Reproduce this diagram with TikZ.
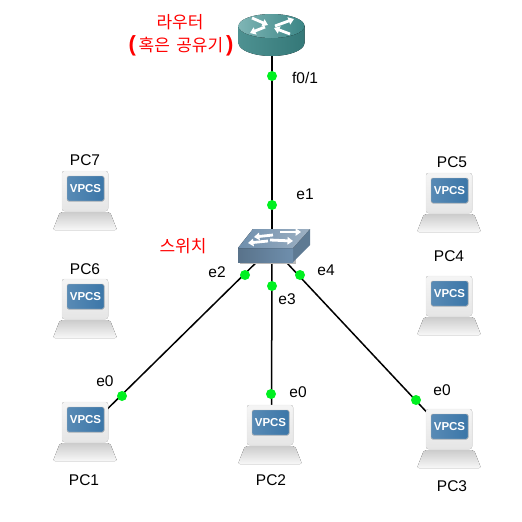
\documentclass[tikz,border=0pt]{standalone}
\usepackage{fontspec}
\setmainfont{Liberation Sans}
\newfontfamily\krfont{Noto Sans CJK KR}
\usetikzlibrary{arrows.meta,positioning,calc}
\definecolor{routerteal}{HTML}{3A8585}
\definecolor{routertop}{HTML}{7FB5B5}
\definecolor{switchblue}{HTML}{6F8FAD}
\definecolor{switchtop}{HTML}{9DB0C2}
\definecolor{screenblue}{HTML}{3B76A8}
\definecolor{portgreen}{HTML}{00F020}
\tikzset{
  wire/.style={draw=black,line width=1.5pt},
  port/.style={circle,fill=portgreen,inner sep=0pt,minimum size=10pt},
  lbl/.style={font=\fontsize{15.5}{18}\selectfont,inner sep=0pt},
  redlbl/.style={font=\krfont\fontsize{17}{20}\selectfont,text=red,inner sep=0pt},
  devbox/.style={inner sep=0pt,minimum width=46pt,minimum height=44pt},
  whitearrow/.style={draw=white,line width=2.8pt,-{Triangle[width=7.5pt,length=5.5pt]}},
  pics/vpcs/.style={code={
    % base
    \fill[top color=gray!40,bottom color=gray!6,rounded corners=2pt]
      (-25,21) -- (25,21) -- (32,39) -- (-32,39) -- cycle;
    % monitor
    \fill[top color=gray!8,bottom color=gray!20,draw=gray!20,rounded corners=2.5pt]
      (-23,-20) rectangle (23,20);
    \fill[left color=screenblue!85!white,right color=screenblue,draw=gray!50,rounded corners=1.5pt]
      (-18,-15) rectangle (19,10);
    \node[font=\bfseries\fontsize{11.5}{12}\selectfont,text=white,inner sep=0pt] (-txt) at (0.5,-2.5) {VPCS};
  }},
}
\begin{document}
\begin{tikzpicture}[x=1pt,y=-1pt]
  \useasboundingbox (0,0) rectangle (522,522);

  % devices
  \node[circle,inner sep=0pt,minimum size=30pt] (router) at (272,40) {};
  \node[inner sep=0pt,minimum width=10pt,minimum height=10pt] (switch) at (272,247) {};
  \foreach \pcname/\px/\py in {PC1/85/431,PC2/271.5/431,PC3/449/436,PC4/449/297,PC5/449/194,PC6/85/300,PC7/85/192}
    \node[devbox] (\pcname) at (\px,\py) {};

  % links
  \draw[wire] (router) -- (switch);
  \draw[wire] (switch) -- (PC1);
  \draw[wire] (switch) -- (PC2);
  \draw[wire] (switch) -- (PC3);

  % router
  \fill[left color=routerteal!90!white,right color=routerteal!90!black] (238.5,26) -- (238.5,43) arc[start angle=180,end angle=0,x radius=33,y radius=13] -- (304.5,26) -- cycle;
  \fill[left color=routertop,right color=routerteal] (271.5,26) ellipse[x radius=33,y radius=12];
  \draw[whitearrow] (252,18) -- (268,25);
  \draw[whitearrow] (265,27) -- (250,33);
  \draw[whitearrow] (275,26) -- (294,19);
  \draw[whitearrow] (290,34) -- (274,28);

  % switch
  \fill[gray!55] (240,254) rectangle (296,264);
  \fill[switchblue!85!black] (293,248) -- (310,229) -- (310,245) -- (293,262) -- cycle;
  \fill[left color=switchblue!80!black,right color=switchblue] (238,248) rectangle (293,262);
  \fill[left color=switchblue,right color=switchtop] (238,248) -- (253,229) -- (310,229) -- (293,248) -- cycle;
  \draw[whitearrow] (280,232) -- (301,232);
  \draw[whitearrow] (273,235) -- (254,237);
  \draw[whitearrow] (268,241) -- (248,243);
  \draw[whitearrow] (270,240) -- (293,241);

  % computers
  \foreach \pcname/\px/\py in {PC1/85/422,PC2/270/425,PC3/449/429,PC4/449/296,PC5/449/193,PC6/85/299,PC7/85/191}
    \pic (\pcname icon) at (\px,\py) {vpcs};

  % ports
  \node[port] (p1) at (272,76) {};
  \node[port] (p2) at (272,205) {};
  \node[port] (p3) at (245,275) {};
  \node[port] (p4) at (272,286) {};
  \node[port] (p5) at (300,275) {};
  \node[port] (p6) at (122,396) {};
  \node[port] (p7) at (271,394) {};
  \node[port] (p8) at (416,400) {};

  % labels
  \node[lbl] (lf) at (305,78) {f0/1};
  \node[lbl] (le1) at (305,194) {e1};
  \node[lbl] (le2) at (217,272) {e2};
  \node[lbl] (le3) at (287,299) {e3};
  \node[lbl] (le4) at (326,270) {e4};
  \node[lbl] (le01) at (105,381) {e0};
  \node[lbl] (le02) at (298,392) {e0};
  \node[lbl] (le03) at (442,390) {e0};
  \node[lbl] (t1) at (84,480) {PC1};
  \node[lbl] (t2) at (271,480) {PC2};
  \node[lbl] (t3) at (452,486) {PC3};
  \node[lbl] (t4) at (449,256) {PC4};
  \node[lbl] (t5) at (452,162) {PC5};
  \node[lbl] (t6) at (85,269) {PC6};
  \node[lbl] (t7) at (85,160) {PC7};

  \node[redlbl] (sw) at (183,246) {스위치};
  \node[redlbl] (r1) at (180,22) {라우터};
  \node[redlbl] (r2) at (181,46) {{\rmfamily\bfseries\fontsize{22}{22}\selectfont(}\,혹은\hspace{2.5pt} 공유기\,{\rmfamily\bfseries\fontsize{22}{22}\selectfont)}};
\end{tikzpicture}
\end{document}
